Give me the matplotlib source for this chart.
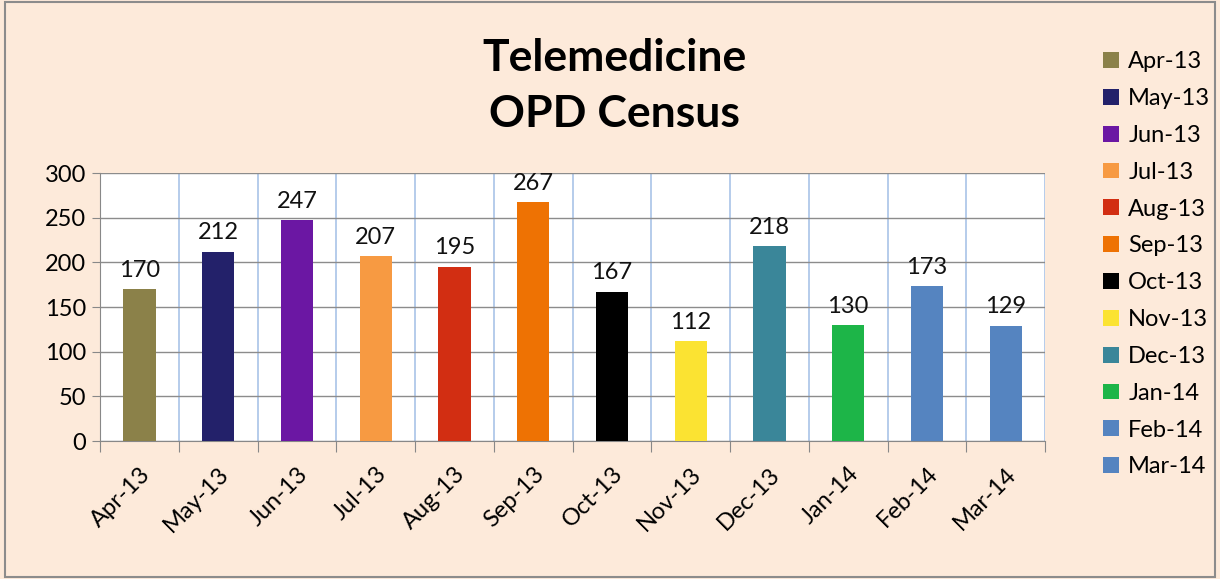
import matplotlib.pyplot as plt
from matplotlib.patches import Rectangle, Patch

# chart data
months = ['Apr-13', 'May-13', 'Jun-13', 'Jul-13', 'Aug-13', 'Sep-13',
          'Oct-13', 'Nov-13', 'Dec-13', 'Jan-14', 'Feb-14', 'Mar-14']
census = [170, 212, 247, 207, 195, 267, 167, 112, 218, 130, 173, 129]
bar_colors = ['#8B8149', '#23216A', '#6B17A3', '#F79A42', '#D22E12', '#EE7203',
              '#000000', '#FBE332', '#3A8699', '#1DB548', '#5584C0', '#5584C0']
y_ticks = [0, 50, 100, 150, 200, 250, 300]

plt.rcParams['font.family'] = ['Lato', 'DejaVu Sans']

bg = '#FDEADA'
fig = plt.figure(figsize=(12.2, 5.79), dpi=100, facecolor=bg)
ax = fig.add_axes([0.082, 0.2383, 0.7746, 0.4629])
ax.set_facecolor('white')

x = list(range(len(months)))
ax.bar(x, census, width=0.41, color=bar_colors, zorder=3)

for xi, v in zip(x, census):
    ax.annotate(str(v), (xi, v), xytext=(0, 6), textcoords='offset points',
                ha='center', va='bottom', fontsize=17, color='#111111')

ax.set_xlim(-0.5, len(months) - 0.5)
ax.set_ylim(0, 300)
ax.set_yticks(y_ticks)
ax.tick_params(axis='y', labelsize=17, length=6, color='#888888', pad=4)

# ticks at category boundaries, labels at centres
bounds = [i - 0.5 for i in range(len(months) + 1)]
ax.set_xticks(bounds)
ax.set_xticklabels([])
ax.set_xticks(x, minor=True)
ax.set_xticklabels(months, minor=True, rotation=45, ha='right',
                   rotation_mode='anchor', fontsize=17)
ax.tick_params(axis='x', which='major', length=8, color='#888888')
ax.tick_params(axis='x', which='minor', length=0, pad=16)

ax.grid(axis='y', color='#8C8C8C', linewidth=1, zorder=0)
ax.grid(axis='x', which='major', color='#A9C4E8', linewidth=1.2, zorder=0)

for side in ['top', 'right']:
    ax.spines[side].set_visible(False)
ax.spines['left'].set_color('#888888')
ax.spines['bottom'].set_color('#888888')

fig.text(0.504, 0.900, 'Telemedicine', ha='center', va='center',
         fontsize=32, fontweight='bold')
fig.text(0.504, 0.803, 'OPD Census', ha='center', va='center',
         fontsize=32, fontweight='bold')

handles = [Patch(facecolor=c, edgecolor='none') for c in bar_colors]
fig.legend(handles, months, loc='upper left', bbox_to_anchor=(0.887, 0.948),
           frameon=False, fontsize=17, handlelength=0.65, handleheight=0.65,
           handletextpad=0.4, labelspacing=0.67)

fig.patches.append(Rectangle((0.004, 0.004), 0.992, 0.992, transform=fig.transFigure,
                             fill=False, edgecolor='#8C8C8C', linewidth=1.5))

fig.savefig('out.png', dpi=100, facecolor=bg)
